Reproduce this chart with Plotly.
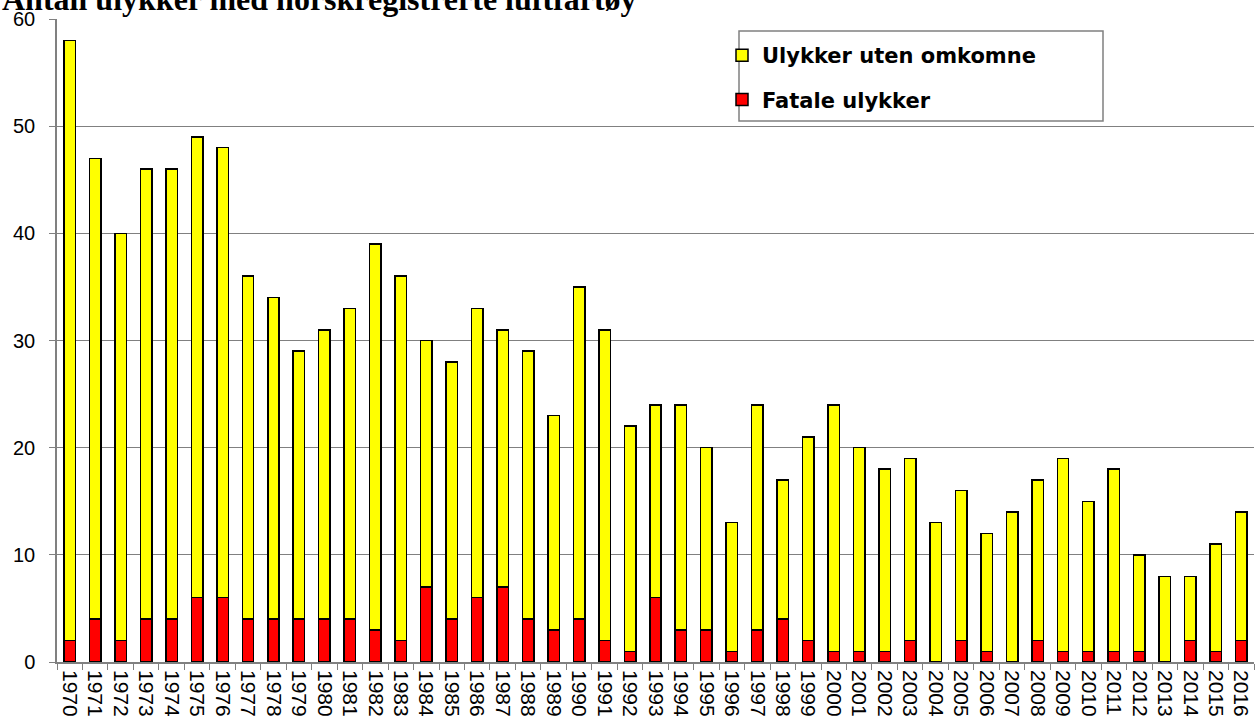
import plotly.graph_objects as go

years = [str(y) for y in range(1970, 2017)]
totals = [58, 47, 40, 46, 46, 49, 48, 36, 34, 29, 31, 33, 39, 36, 30, 28, 33, 31, 29, 23,
          35, 31, 22, 24, 24, 20, 13, 24, 17, 21, 24, 20, 18, 19, 13, 16, 12, 14, 17, 19,
          15, 18, 10, 8, 8, 11, 14]
fatal = [2, 4, 2, 4, 4, 6, 6, 4, 4, 4, 4, 4, 3, 2, 7, 4, 6, 7, 4, 3,
         4, 2, 1, 6, 3, 3, 1, 3, 4, 2, 1, 1, 1, 2, 0, 2, 1, 0, 2, 1,
         1, 1, 1, 0, 2, 1, 2]
non_fatal = [t - f for t, f in zip(totals, fatal)]

fig = go.Figure()
fig.add_trace(go.Bar(x=years, y=fatal, name="Fatale ulykker", legendgroup="f", legendrank=2,
                     marker=dict(color="#FF0000", line=dict(color="black", width=1.5))))
fig.add_trace(go.Bar(x=years, y=non_fatal, name="Ulykker uten omkomne", legendgroup="u", legendrank=1,
                     marker=dict(color="#FFFF00", line=dict(color="black", width=1.5))))

W, H = 1258, 718
ml, mr, mt, mb = 57, 4, 19, 56
pw = W - ml - mr
ph = H - mt - mb

fig.update_layout(
    width=W, height=H,
    barmode="stack", bargap=0.55,
    plot_bgcolor="white", paper_bgcolor="white",
    margin=dict(l=ml, r=mr, t=mt, b=mb, autoexpand=False),
    font=dict(family="Liberation Sans, Arial", color="black"),
    showlegend=True,
    legend=dict(traceorder="grouped", x=(722 - ml) / pw, y=1 - (35 - mt) / ph,
                xanchor="left", yanchor="top", bgcolor="rgba(0,0,0,0)",
                font=dict(size=21, family="DejaVu Sans", weight="bold"),
                tracegroupgap=14, itemwidth=30),
    xaxis=dict(type="category", tickmode="array", tickvals=years, ticktext=years,
               tickangle=90, tickfont=dict(size=21),
               showline=True, linecolor="#808080", linewidth=1.5,
               ticks="outside", tickson="boundaries", ticklen=6, tickcolor="#808080",
               ticklabelstandoff=2, showgrid=False),
    yaxis=dict(range=[0, 60], dtick=10, tickfont=dict(size=20),
               showline=True, linecolor="#808080", linewidth=1.5,
               ticks="outside", ticklen=6, tickcolor="#808080",
               ticklabelstandoff=10,
               showgrid=True, gridcolor="#808080", gridwidth=1, zeroline=False),
    shapes=[dict(type="rect", xref="paper", yref="paper",
                 x0=(739 - ml) / pw, x1=(1103 - ml) / pw,
                 y0=1 - (121 - mt) / ph, y1=1 - (31 - mt) / ph,
                 line=dict(color="#808080", width=1.5), fillcolor="rgba(0,0,0,0)")],
    annotations=[dict(text="<b>Antall ulykker med norskregistrerte luftfartøy</b>",
                      xref="paper", yref="paper", x=-ml / pw, y=1,
                      xanchor="left", yanchor="bottom", showarrow=False,
                      font=dict(family="Liberation Serif, Times New Roman", size=32))],
)

fig.write_html("out.html", post_script="document.body.style.margin='0';",
               config={"displayModeBar": False})
